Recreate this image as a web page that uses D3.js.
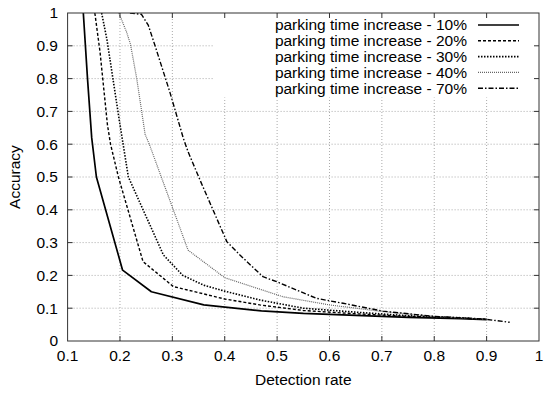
<!DOCTYPE html>
<html><head><meta charset="utf-8">
<script src="https://cdn.jsdelivr.net/npm/d3@7"></script>
<style>body{margin:0;background:#fff}svg{display:block}text{font-family:"Liberation Sans",Arial,sans-serif;fill:#000}</style>
</head><body><div id="chart"></div>
<script>
const xTicks = [0.1,0.2,0.3,0.4,0.5,0.6,0.7,0.8,0.9,1];
const yTicks = [0,0.1,0.2,0.3,0.4,0.5,0.6,0.7,0.8,0.9,1];
const xTickLabels = ["0.1","0.2","0.3","0.4","0.5","0.6","0.7","0.8","0.9","1"];
const yTickLabels = ["0","0.1","0.2","0.3","0.4","0.5","0.6","0.7","0.8","0.9","1"];
const seriesNames = ["parking time increase - 10%","parking time increase - 20%","parking time increase - 30%","parking time increase - 40%","parking time increase - 70%"];

const x10 = [0.13,0.138,0.146,0.155,0.205,0.26,0.36,0.47,0.55,0.65,0.75,0.85,0.9];
const y10 = [1.0,0.80,0.62,0.50,0.216,0.15,0.11,0.092,0.084,0.078,0.072,0.068,0.065];
const x20 = [0.152,0.162,0.176,0.182,0.197,0.244,0.302,0.4,0.467,0.55,0.65,0.75,0.85,0.9];
const y20 = [1.0,0.88,0.66,0.60,0.50,0.242,0.166,0.128,0.11,0.093,0.083,0.075,0.07,0.066];
const x30 = [0.165,0.175,0.199,0.216,0.283,0.32,0.36,0.4,0.467,0.55,0.65,0.75,0.85,0.9];
const y30 = [1.0,0.92,0.67,0.50,0.262,0.2,0.17,0.152,0.125,0.10,0.088,0.077,0.071,0.066];
const x40 = [0.198,0.213,0.22,0.232,0.248,0.256,0.33,0.4,0.467,0.511,0.6,0.7,0.8,0.9];
const y40 = [1.0,0.94,0.905,0.80,0.63,0.60,0.277,0.193,0.158,0.135,0.11,0.09,0.075,0.066];
const x70 = [0.219,0.241,0.254,0.267,0.295,0.321,0.33,0.353,0.404,0.429,0.473,0.499,0.575,0.626,0.702,0.8,0.9,0.944];
const y70 = [1.0,0.996,0.963,0.90,0.76,0.618,0.577,0.49,0.303,0.262,0.196,0.181,0.130,0.115,0.091,0.075,0.066,0.057];

const xs = [x10,x20,x30,x40,x70];
const ys = [y10,y20,y30,y40,y70];
const styles = [
  {stroke:"#000", width:1.7, dash:null},
  {stroke:"#000", width:1.4, dash:"3,2"},
  {stroke:"#000", width:1.6, dash:"1.5,1.5"},
  {stroke:"#666", width:1.2, dash:"1,1"},
  {stroke:"#000", width:1.4, dash:"5,2,1.5,2"}
];

const W = 550, H = 393;
const L = 67.6, R = 539, T = 13, B = 341;
const svg = d3.select("#chart").append("svg").attr("width",W).attr("height",H);
const x = d3.scaleLinear().domain([0.1,1]).range([L,R]);
const y = d3.scaleLinear().domain([0,1]).range([B,T]);

// grid
const grid = svg.append("g");
grid.selectAll("line.gx").data(xTicks.slice(1,-1)).enter().append("line")
  .attr("x1",d=>x(d)).attr("x2",d=>x(d)).attr("y1",B).attr("y2",T)
  .attr("stroke","#aaa").attr("stroke-width",1).attr("stroke-dasharray","1,2");
grid.selectAll("line.gy").data(yTicks.slice(1,-1)).enter().append("line")
  .attr("x1",L).attr("x2",R).attr("y1",d=>y(d)).attr("y2",d=>y(d))
  .attr("stroke","#aaa").attr("stroke-width",1).attr("stroke-dasharray","1,2");

// clip
svg.append("clipPath").attr("id","clip").append("rect").attr("x",L).attr("y",T).attr("width",R-L).attr("height",B-T);

const line = d3.line().x(d=>x(d[0])).y(d=>y(d[1]));
const plot = svg.append("g").attr("clip-path","url(#clip)");
xs.forEach((xv,i)=>{
  const pts = xv.map((v,j)=>[v, ys[i][j]]);
  plot.append("path").datum(pts).attr("d",line).attr("fill","none")
    .attr("stroke",styles[i].stroke).attr("stroke-width",styles[i].width)
    .attr("stroke-dasharray",styles[i].dash).attr("stroke-linejoin","round");
});

// key (opaque)
const keyX0 = 213, keyY1 = 97;
svg.append("rect").attr("x",keyX0).attr("y",T+0.5).attr("width",R-keyX0-0.5).attr("height",keyY1-T).attr("fill","#fff");
const key = svg.append("g");
seriesNames.forEach((name,i)=>{
  const cy = 25 + i*15.8;
  key.append("text").attr("x",467).attr("y",cy).attr("dy","0.35em").attr("text-anchor","end")
    .style("font-size","15.5px").text(name);
  key.append("line").attr("x1",478).attr("x2",519).attr("y1",cy).attr("y2",cy)
    .attr("stroke",styles[i].stroke).attr("stroke-width",styles[i].width).attr("stroke-dasharray",styles[i].dash);
});

// border + ticks
svg.append("rect").attr("x",L).attr("y",T).attr("width",R-L).attr("height",B-T)
  .attr("fill","none").attr("stroke","#333").attr("stroke-width",1);
const tk = 5;
const ticks = svg.append("g").attr("stroke","#333").attr("stroke-width",1);
xTicks.slice(1,-1).forEach(d=>{
  ticks.append("line").attr("x1",x(d)).attr("x2",x(d)).attr("y1",B).attr("y2",B-tk);
  ticks.append("line").attr("x1",x(d)).attr("x2",x(d)).attr("y1",T).attr("y2",T+tk);
});
yTicks.slice(1,-1).forEach(d=>{
  ticks.append("line").attr("x1",L).attr("x2",L+tk).attr("y1",y(d)).attr("y2",y(d));
  ticks.append("line").attr("x1",R).attr("x2",R-tk).attr("y1",y(d)).attr("y2",y(d));
});

// tick labels
svg.append("g").selectAll("text").data(xTicks).enter().append("text")
  .attr("x",d=>x(d)).attr("y",361).attr("text-anchor","middle").style("font-size","15.5px")
  .text((d,i)=>xTickLabels[i]);
svg.append("g").selectAll("text").data(yTicks).enter().append("text")
  .attr("x",58).attr("y",d=>y(d)).attr("dy","0.35em").attr("text-anchor","end").style("font-size","15.5px")
  .text((d,i)=>yTickLabels[i]);

// axis titles
svg.append("text").attr("x",(L+R)/2).attr("y",385).attr("text-anchor","middle").style("font-size","15.5px").text("Detection rate");
svg.append("text").attr("transform",`translate(20,${(T+B)/2}) rotate(-90)`).attr("text-anchor","middle").style("font-size","15.5px").text("Accuracy");
</script></body></html>
